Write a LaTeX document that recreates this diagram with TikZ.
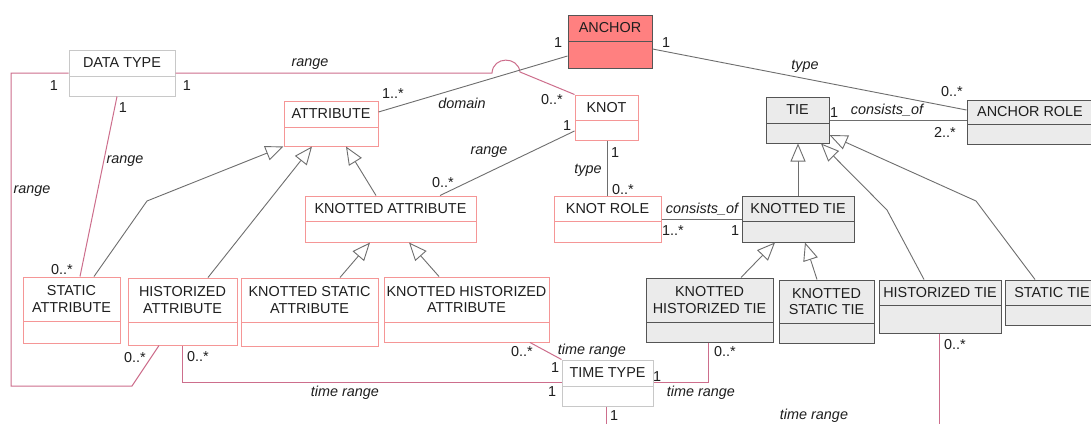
\documentclass[tikz,border=0pt]{standalone}
\usepackage{fontspec}
\setmainfont{Liberation Sans}
\usetikzlibrary{arrows.meta,fit,calc}
\definecolor{pinkbd}{RGB}{245,150,150}
\definecolor{pinkln}{RGB}{205,110,140}
\definecolor{grayln}{RGB}{110,110,110}
\definecolor{tiefill}{RGB}{235,235,235}
\definecolor{tiebd}{RGB}{85,85,85}
\definecolor{typebd}{RGB}{200,200,200}
\definecolor{anchorfill}{RGB}{255,128,128}
\definecolor{txt}{RGB}{30,30,30}
\newcommand\umlbox[8]{%
  \node[#2, fit={(#3,#4) (#5,#6)}, inner sep=0pt] (#1) {};
  \draw[#2, fill=none] (#3,#7) -- (#5,#7);
  \node[boxtitle] (#1-t) at ({(#3+#5)/2},{(#4+#7)/2}) {#8};
}
\newcommand\lab[5]{\node[#2] (#1) at (#3,#4) {#5};}
\begin{document}
\begin{tikzpicture}[x=1pt,y=-1pt,
  every node/.style={font=\fontsize{14.4}{16.5}\selectfont, text=txt},
  attrbox/.style={draw=pinkbd, fill=white, line width=1pt},
  tiebox/.style={draw=tiebd, fill=tiefill, line width=1pt},
  typebox/.style={draw=typebd, fill=white, line width=1pt},
  anchorbox/.style={draw=tiebd, fill=anchorfill, line width=1pt},
  boxtitle/.style={align=center, inner sep=0pt},
  role/.style={font=\fontsize{14.4}{16.5}\selectfont\itshape, inner sep=0pt},
  mult/.style={inner sep=0pt},
  pinkline/.style={draw=pinkln, line width=1pt},
  grayline/.style={draw=grayln, line width=0.9pt},
  gen/.style={grayline, -{Triangle[length=18pt,width=15pt,fill=white]}},
]
\useasboundingbox (0,0) rectangle (1091,423);
\fill[white] (0,0) rectangle (1091,423);

% classes
\umlbox{datatype}{typebox}{69}{50}{175}{96}{76}{DATA TYPE}
\umlbox{anchor}{anchorbox}{568}{15}{652}{68}{41}{ANCHOR}
\umlbox{attribute}{attrbox}{284}{101}{378}{146}{127}{ATTRIBUTE}
\umlbox{knot}{attrbox}{575}{95}{638}{140}{120}{KNOT}
\umlbox{tie}{tiebox}{766}{97}{829}{143}{123}{TIE}
\umlbox{anchorrole}{tiebox}{967}{100}{1093}{144}{124}{ANCHOR ROLE}
\umlbox{knattr}{attrbox}{305}{196}{476}{242}{221}{KNOTTED ATTRIBUTE}
\umlbox{knotrole}{attrbox}{554}{196}{661}{242}{221}{KNOT ROLE}
\umlbox{kntie}{tiebox}{742}{196}{854}{242}{221}{KNOTTED TIE}
\umlbox{statattr}{attrbox}{23}{277}{120}{343}{321}{STATIC\\ATTRIBUTE}
\umlbox{histattr}{attrbox}{128}{278}{237}{345}{322}{HISTORIZED\\ATTRIBUTE}
\umlbox{knstatattr}{attrbox}{241}{278}{378}{346}{322}{KNOTTED STATIC\\ATTRIBUTE}
\umlbox{knhistattr}{attrbox}{384}{277}{549}{342}{322}{KNOTTED HISTORIZED\\ATTRIBUTE}
\umlbox{knhisttie}{tiebox}{646}{278}{773}{342}{322}{KNOTTED\\HISTORIZED TIE}
\umlbox{knstattie}{tiebox}{779}{280}{874}{343}{323}{KNOTTED\\STATIC TIE}
\umlbox{histtie}{tiebox}{879}{280}{1001}{333}{305}{HISTORIZED TIE}
\umlbox{stattie}{tiebox}{1005}{280}{1099}{325}{305}{STATIC TIE}
\umlbox{timetype}{typebox}{562}{360}{653}{406}{386}{TIME TYPE}

\coordinate (histtie-out) at (939,430);
\coordinate (timetype-out) at (606,430);

% associations
\draw[pinkline] (datatype.east |- 0,73) -- (492,73) .. controls (493,56) and (518,56) .. (520,72) -- (knot.north west);
\draw[pinkline] (datatype.west |- 0,73) -- (11,73) -- (11,386) -- (132,386) -- (histattr.south -| 159,0);
\draw[pinkline] (datatype.south -| 117,0) -- (statattr.north -| 80,0);
\draw[grayline] (anchor.west |- 0,56) -- (attribute.east |- 0,112);
\draw[grayline] (anchor.east |- 0,49) -- (anchorrole.west |- 0,110);
\draw[grayline] (tie.east |- 0,120) -- (anchorrole.west |- 0,120);
\draw[grayline] (knot.west |- 0,131) -- (knattr.north -| 440,0);
\draw[grayline] (knot.south -| 607,0) -- (knotrole.north -| 607,0);
\draw[grayline] (knotrole.east |- 0,219) -- (kntie.west |- 0,219);
\draw[pinkline] (knhistattr.south -| 530,0) -- (timetype.north west);
\draw[pinkline] (histattr.south -| 182,0) -- (182,382) -- (timetype.west |- 0,382);
\draw[pinkline] (knhisttie.south -| 708,0) -- (708,382) -- (timetype.east |- 0,382);
\draw[pinkline] (histtie.south -| 939,0) -- (histtie-out);
\draw[pinkline] (timetype.south -| 606,0) -- (timetype-out);

% generalizations
\draw[gen] (statattr.north -| 94,0) -- (147,201) -- (attribute.south west);
\draw[gen] (histattr.north -| 208,0) -- (attribute.south -| 312,0);
\draw[gen] (knattr.north -| 376,0) -- (attribute.south -| 346,0);
\draw[gen] (knstatattr.north -| 340,0) -- (knattr.south -| 370,0);
\draw[gen] (knhistattr.north -| 439,0) -- (knattr.south -| 409,0);
\draw[gen] (kntie.north -| 798,0) -- (tie.south -| 798,0);
\draw[gen] (knhisttie.north -| 741,0) -- (kntie.south -| 775,0);
\draw[gen] (knstattie.north -| 817,0) -- (kntie.south -| 805,0);
\draw[gen] (histtie.north -| 924,0) -- (887,210) -- (tie.south -| 821,0);
\draw[gen] (stattie.north -| 1035,0) -- (976,201) -- (tie.east |- 0,135);

% labels
\lab{l1}{role}{310}{64}{range}
\lab{l2}{mult}{54}{86}{1}
\lab{l3}{mult}{187}{86}{1}
\lab{l4}{mult}{123}{108}{1}
\lab{l5}{role}{125}{161}{range}
\lab{l6}{role}{32}{191}{range}
\lab{l7}{mult}{62}{270}{0..*}
\lab{l8}{mult}{135}{358}{0..*}
\lab{l9}{mult}{198}{357}{0..*}
\lab{l10}{role}{345}{393}{time range}
\lab{l11}{mult}{558}{43}{1}
\lab{l12}{mult}{666}{43}{1}
\lab{l13}{mult}{393}{94}{1..*}
\lab{l14}{role}{462}{103}{domain}
\lab{l15}{mult}{552}{100}{0..*}
\lab{l16}{mult}{567}{126}{1}
\lab{l17}{role}{489}{152}{range}
\lab{l18}{mult}{443}{183}{0..*}
\lab{l19}{mult}{615}{153}{1}
\lab{l20}{role}{588}{170}{type}
\lab{l21}{mult}{623}{190}{0..*}
\lab{l22}{role}{702}{209}{consists\_of}
\lab{l23}{mult}{673}{231}{1..*}
\lab{l24}{mult}{735}{231}{1}
\lab{l25}{role}{805}{66}{type}
\lab{l26}{mult}{952}{92}{0..*}
\lab{l27}{mult}{834}{113}{1}
\lab{l28}{role}{887}{110}{consists\_of}
\lab{l29}{mult}{945}{132}{2..*}
\lab{l30}{mult}{955}{345}{0..*}
\lab{l31}{mult}{522}{352}{0..*}
\lab{l32}{role}{592}{351}{time range}
\lab{l33}{mult}{555}{368}{1}
\lab{l34}{mult}{552}{392}{1}
\lab{l35}{mult}{657}{377}{1}
\lab{l36}{role}{701}{393}{time range}
\lab{l37}{mult}{725}{352}{0..*}
\lab{l38}{role}{814}{416}{time range}
\lab{l39}{mult}{614}{416}{1}
\end{tikzpicture}
\end{document}
